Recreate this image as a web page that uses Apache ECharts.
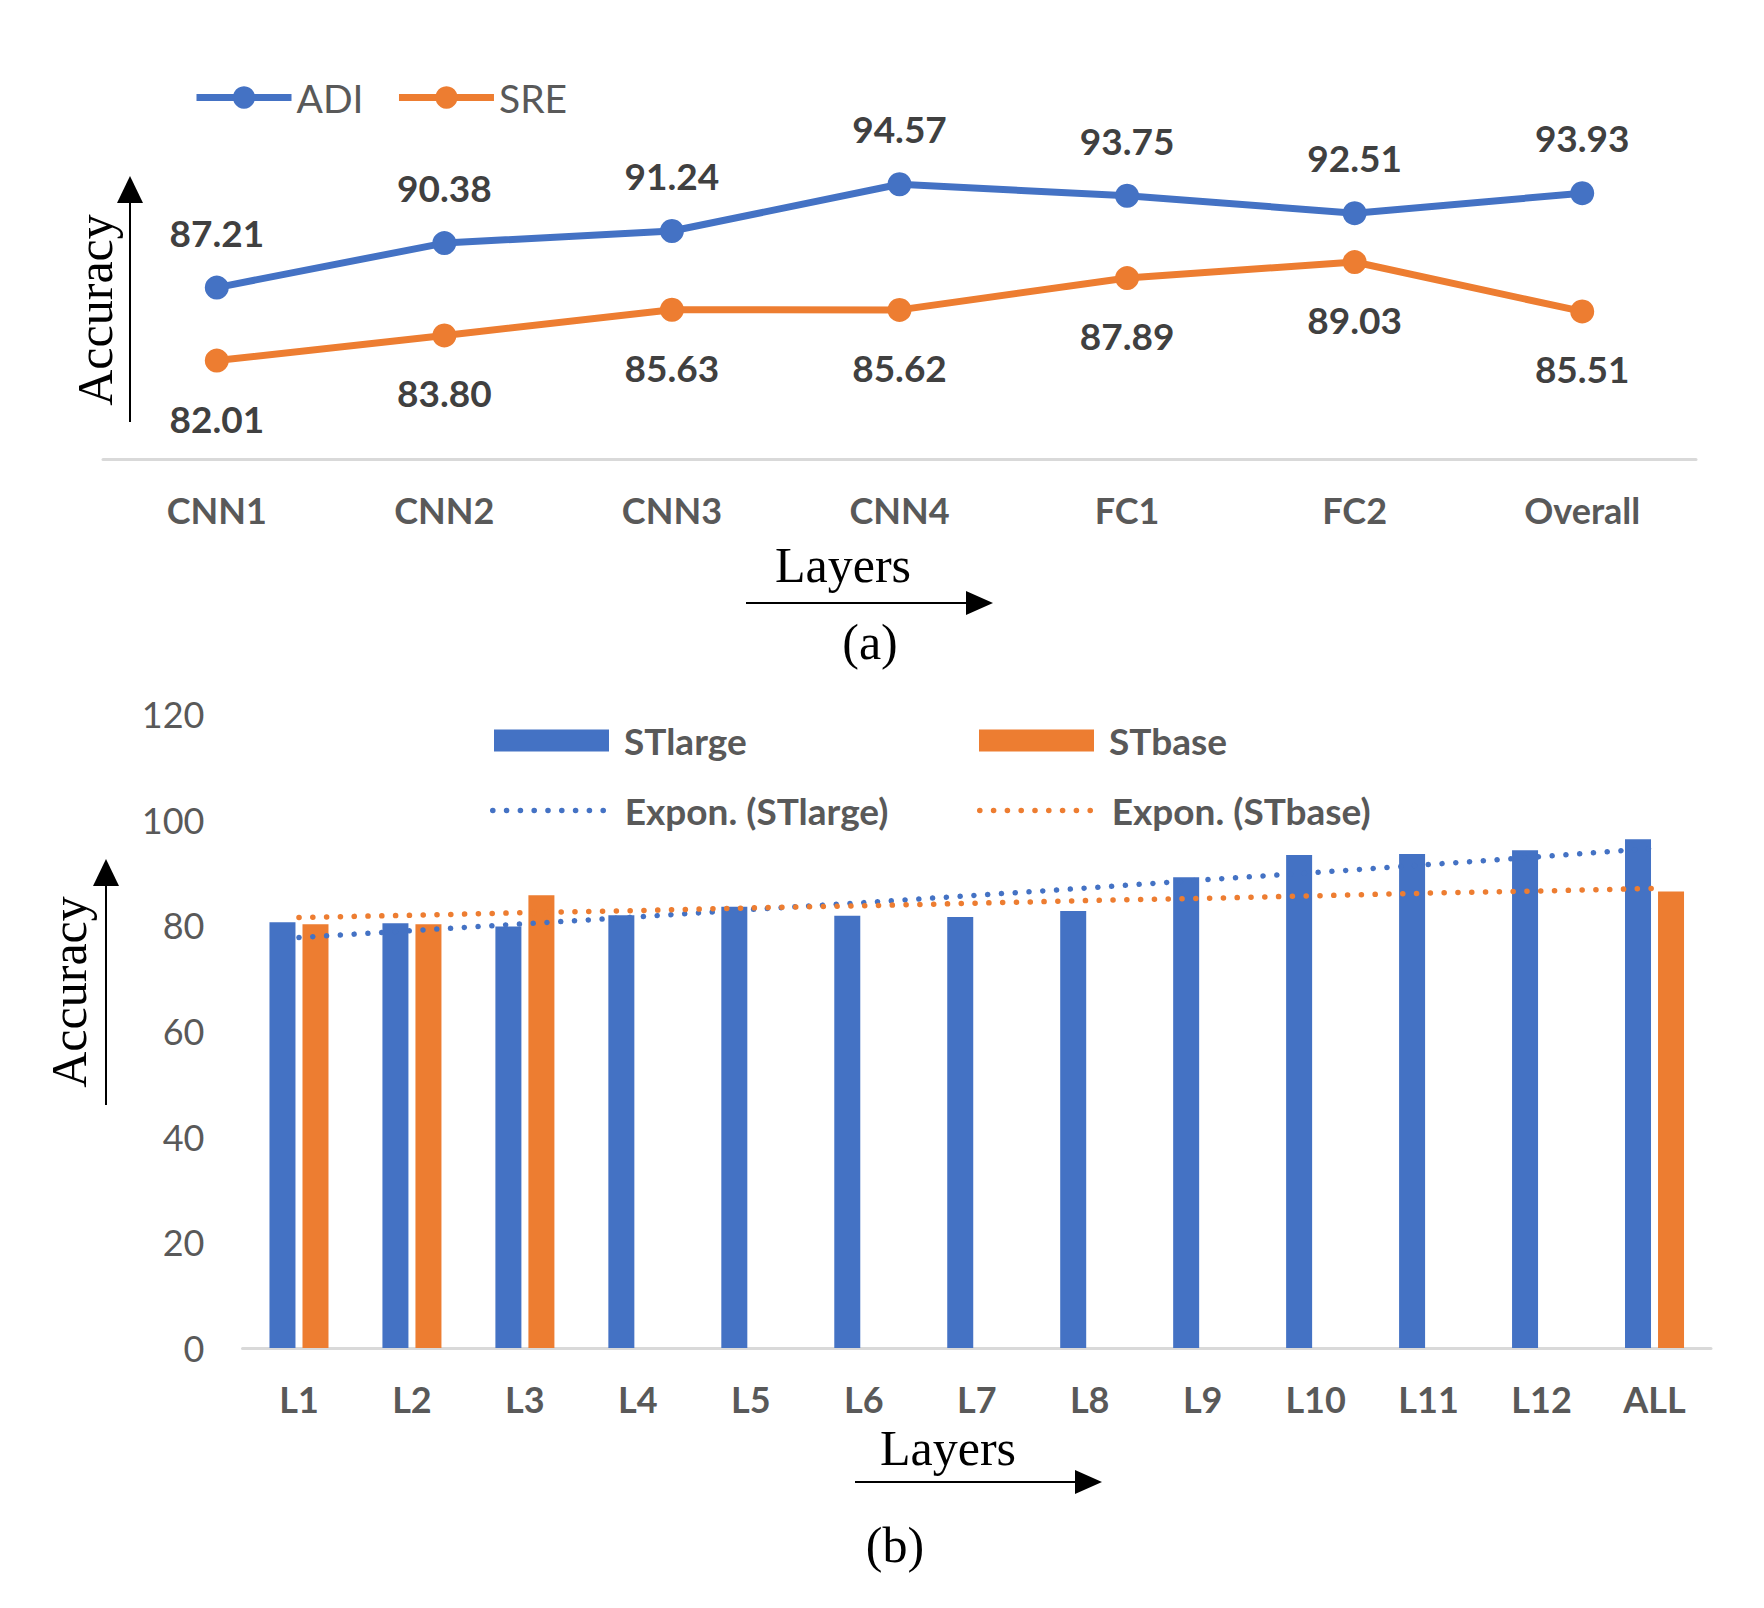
<!DOCTYPE html>
<html><head><meta charset="utf-8">
<script src="https://cdn.jsdelivr.net/npm/echarts@6/dist/echarts.min.js"></script>
<style>html,body{margin:0;padding:0;background:#fff}#c{width:1764px;height:1608px}</style>
</head><body><div id="c"></div>
<script>
// ---- data (a) ----
const layersA = ['CNN1', 'CNN2', 'CNN3', 'CNN4', 'FC1', 'FC2', 'Overall'];
const adiValues = [87.21, 90.38, 91.24, 94.57, 93.75, 92.51, 93.93];
const sreValues = [82.01, 83.80, 85.63, 85.62, 87.89, 89.03, 85.51];
// ---- data (b) ----
const layersB = ['L1', 'L2', 'L3', 'L4', 'L5', 'L6', 'L7', 'L8', 'L9', 'L10', 'L11', 'L12', 'ALL'];
const stLarge = [80.6, 80.4, 79.8, 81.9, 83.5, 81.8, 81.6, 82.7, 89.1, 93.3, 93.5, 94.2, 96.3];
const stBase = [80.2, 80.2, 85.7, null, null, null, null, null, null, null, null, null, 86.4];
const trendLarge = [77.7, 79.0, 80.3, 81.6, 83.0, 84.3, 85.7, 87.1, 88.6, 90.0, 91.5, 93.0, 94.6];
const trendBase = [81.5, 81.9, 82.4, 82.8, 83.3, 83.7, 84.2, 84.7, 85.1, 85.6, 86.1, 86.5, 87.0];
const yMinB = 0, yMaxB = 120, yStepB = 20;

const BLUE = '#4472C4', ORANGE = '#ED7D31', GREY = '#595959', DARK = '#404040';
const SANS = 'Lato', SERIF = '"Liberation Serif", "Times New Roman", serif';

const chart = echarts.init(document.getElementById('c'), null, {renderer: 'svg'});

const dotted = (color) => ({color: color, width: 5.5, type: [0.1, 13.7], cap: 'round'});
const legendText = {fontFamily: SANS, fontSize: 37, fontWeight: 'bold', color: GREY, padding: [0, 0, 0, 10]};

function arrowUp(x, yBottom, yTip) {
  return [
    {type: 'line', shape: {x1: x, y1: yBottom, x2: x, y2: yTip + 25}, style: {stroke: '#000', lineWidth: 2}},
    {type: 'polygon', shape: {points: [[x, yTip], [x - 13, yTip + 27], [x + 13, yTip + 27]]}, style: {fill: '#000'}}
  ];
}
function arrowRight(xStart, xTip, y) {
  return [
    {type: 'line', shape: {x1: xStart, y1: y, x2: xTip - 25, y2: y}, style: {stroke: '#000', lineWidth: 2}},
    {type: 'polygon', shape: {points: [[xTip, y], [xTip - 27, y - 12], [xTip - 27, y + 12]]}, style: {fill: '#000'}}
  ];
}
function serifText(text, x, y, rot) {
  return {type: 'text', x: x, y: y, rotation: rot || 0,
    style: {text: text, fontFamily: SERIF, fontSize: 50, fill: '#000', align: 'center', verticalAlign: 'middle'}};
}

const option = {
  backgroundColor: '#fff',
  animation: false,
  grid: [
    {left: 103, top: 108, width: 1593, height: 351},
    {left: 242.5, top: 714, width: 1468.5, height: 634}
  ],
  xAxis: [
    {type: 'category', gridIndex: 0, data: layersA, boundaryGap: true,
     axisLine: {lineStyle: {color: '#d9d9d9', width: 3}}, axisTick: {show: false},
     axisLabel: {margin: 33, fontFamily: SANS, fontSize: 36, fontWeight: 'bold', color: GREY}},
    {type: 'category', gridIndex: 1, data: layersB, boundaryGap: true,
     axisLine: {lineStyle: {color: '#d9d9d9', width: 3}}, axisTick: {show: false},
     axisLabel: {margin: 33, fontFamily: SANS, fontSize: 36, fontWeight: 'bold', color: GREY}}
  ],
  yAxis: [
    {type: 'value', gridIndex: 0, min: 75, max: 100, show: false, splitLine: {show: false}},
    {type: 'value', gridIndex: 1, min: yMinB, max: yMaxB, interval: yStepB,
     axisLine: {show: false}, axisTick: {show: false}, splitLine: {show: false},
     axisLabel: {margin: 38, fontFamily: SANS, fontSize: 36, color: GREY}}
  ],
  legend: [
    {data: ['ADI', 'SRE'], left: 188, top: 73, itemWidth: 95, itemHeight: 28, itemGap: 32,
     lineStyle: {width: 7}, textStyle: {fontFamily: SANS, fontSize: 39, color: GREY}},
    {data: ['STlarge'], left: 489, top: 717, itemWidth: 115, itemHeight: 22, icon: 'rect', textStyle: legendText},
    {data: ['STbase'], left: 974, top: 717, itemWidth: 115, itemHeight: 22, icon: 'rect', textStyle: legendText},
    {data: ['Expon. (STlarge)'], left: 485, top: 787, itemWidth: 117, itemHeight: 22,
     lineStyle: {width: 5.5}, itemStyle: {opacity: 0}, textStyle: legendText},
    {data: ['Expon. (STbase)'], left: 972, top: 787, itemWidth: 117, itemHeight: 22,
     lineStyle: {width: 5.5}, itemStyle: {opacity: 0}, textStyle: legendText}
  ],
  series: [
    {name: 'ADI', type: 'line', xAxisIndex: 0, yAxisIndex: 0, data: adiValues,
     symbol: 'circle', symbolSize: 24, color: BLUE, lineStyle: {width: 7, color: BLUE},
     label: {show: true, position: 'top', distance: 25, fontFamily: SANS, fontSize: 37, fontWeight: 'bold', color: DARK,
             formatter: p => p.value.toFixed(2)}},
    {name: 'SRE', type: 'line', xAxisIndex: 0, yAxisIndex: 0, data: sreValues,
     symbol: 'circle', symbolSize: 24, color: ORANGE, lineStyle: {width: 7, color: ORANGE},
     label: {show: true, position: 'bottom', distance: 27, fontFamily: SANS, fontSize: 37, fontWeight: 'bold', color: DARK,
             formatter: p => p.value.toFixed(2)}},
    {name: 'STlarge', type: 'bar', xAxisIndex: 1, yAxisIndex: 1, data: stLarge, barWidth: 26, barGap: '27%',
     itemStyle: {color: BLUE}, z: 2},
    {name: 'STbase', type: 'bar', xAxisIndex: 1, yAxisIndex: 1, data: stBase, barWidth: 26, barGap: '27%',
     itemStyle: {color: ORANGE}, z: 2},
    {name: 'Expon. (STlarge)', type: 'line', xAxisIndex: 1, yAxisIndex: 1, data: trendLarge,
     symbol: 'none', color: BLUE, lineStyle: dotted(BLUE), z: 5},
    {name: 'Expon. (STbase)', type: 'line', xAxisIndex: 1, yAxisIndex: 1, data: trendBase,
     symbol: 'none', color: ORANGE, lineStyle: dotted(ORANGE), z: 5}
  ],
  graphic: [].concat(
    arrowUp(130, 422, 176),
    [serifText('Accuracy', 95, 310, Math.PI / 2)],
    [serifText('Layers', 843, 565)],
    arrowRight(746, 993, 603),
    [serifText('(a)', 870, 642)],
    arrowUp(106, 1105, 859),
    [serifText('Accuracy', 69, 992, Math.PI / 2)],
    [serifText('Layers', 948, 1448)],
    arrowRight(855, 1102, 1482),
    [serifText('(b)', 895, 1545)]
  )
};
chart.setOption(option);
</script>
</body></html>
